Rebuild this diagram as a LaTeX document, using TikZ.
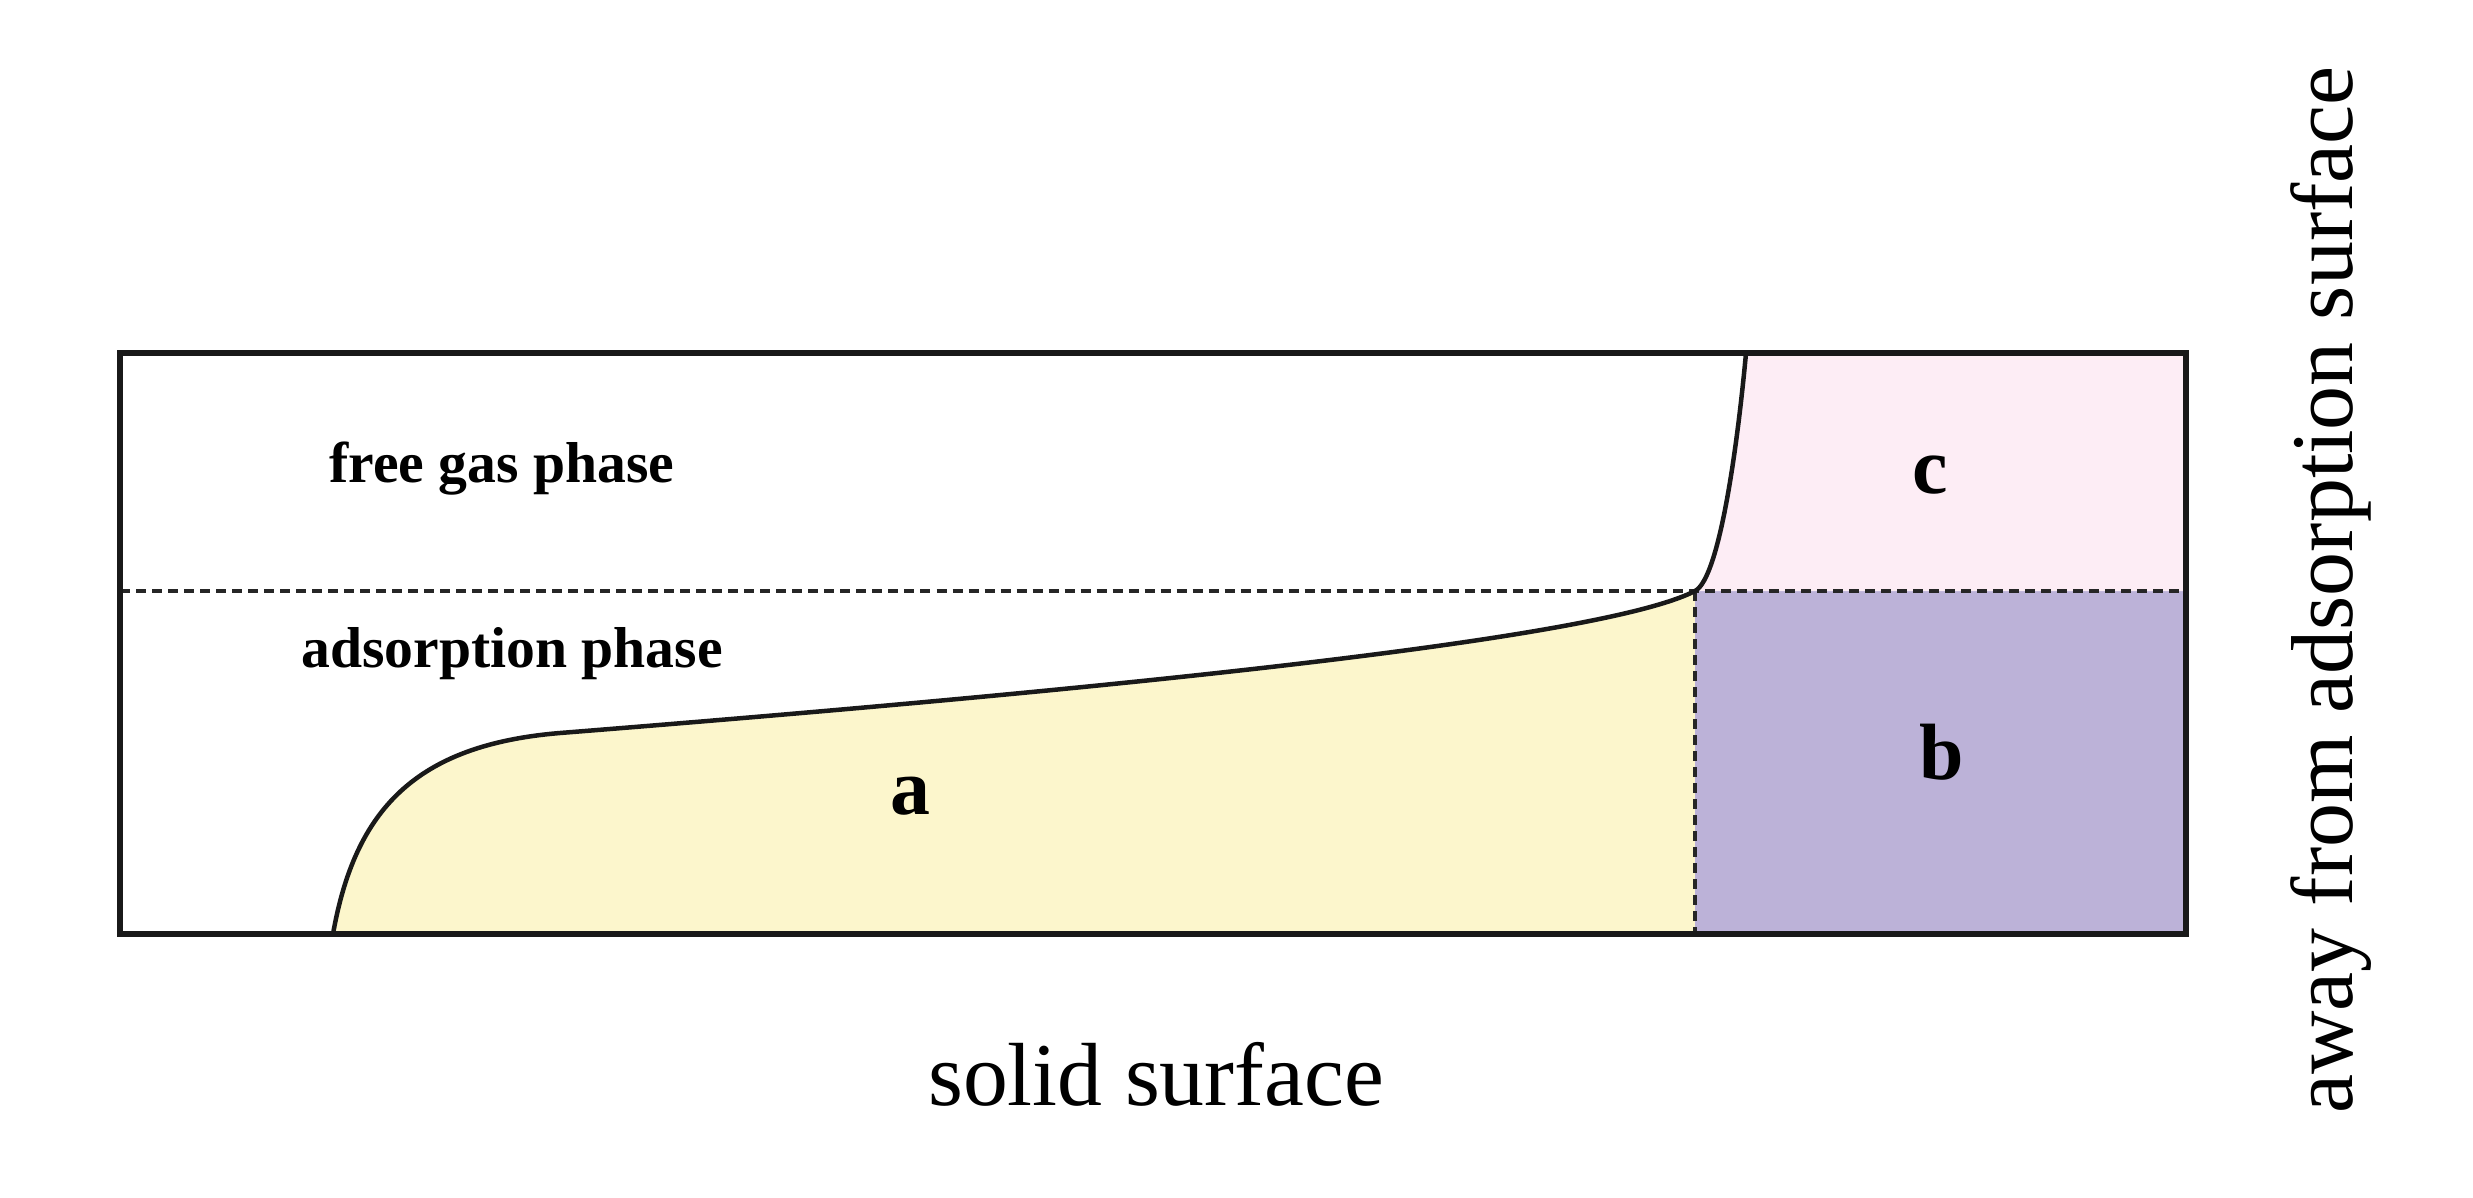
\documentclass[tikz,border=0pt]{standalone}
\usepackage{fontspec}
\setmainfont{Liberation Serif}
\usepackage{tikz}

\definecolor{phasea}{RGB}{252,246,204}
\definecolor{phaseb}{RGB}{188,178,216}
\definecolor{phasec}{RGB}{253,237,245}

\begin{document}
\begin{tikzpicture}[x=0.01cm,y=-0.01cm]
\tikzstyle{frame}=[draw=black!90,line width=0.06cm]
\tikzstyle{divide}=[draw=black!85,line width=0.035cm,dash pattern=on 0.1cm off 0.06cm]
\tikzstyle{isotherm}=[draw=black!90,line width=0.045cm]
\tikzstyle{phase}=[anchor=base,inner sep=0pt,font=\fontsize{16.4}{19}\selectfont\bfseries]
\tikzstyle{region}=[anchor=base,inner sep=0pt,font=\fontsize{22.7}{26}\selectfont\bfseries]
\tikzstyle{axis}=[anchor=base,inner sep=0pt,font=\fontsize{25.5}{30}\selectfont]
\useasboundingbox (0,0) rectangle (2473,1197);
\coordinate (sw) at (120,934);
\coordinate (ne) at (2186,353);
\coordinate (corner) at (1695,591);
\coordinate (foot) at (333,934);
\coordinate (knee) at (560,733);
\coordinate (top) at (1746,353);
% coloured regions
\fill[phasea] (foot) .. controls (355,810) and (415,745) .. (knee)
  .. controls (1100,690) and (1600,640) .. (corner) -- (1695,934) -- cycle;
\fill[phaseb] (corner) rectangle (2186,934);
\fill[phasec] (corner) .. controls (1720,578) and (1738,440) .. (top)
  -- (2186,353) -- (2186,591) -- cycle;
% phase boundaries
\draw[divide] (120,591) -- (2186,591);
\draw[divide] (corner) -- (1695,934);
\draw[isotherm] (foot) .. controls (355,810) and (415,745) .. (knee)
  .. controls (1100,690) and (1600,640) .. (corner)
  .. controls (1720,578) and (1738,440) .. (top);
\draw[frame] (sw) rectangle (ne);
% labels
\node [phase] (free) at (502,482) {free gas phase};
\node [phase] (adsorb) at (512,667) {adsorption phase};
\node [region] (la) at (910,814) {a};
\node [region] (lb) at (1942,779) {b};
\node [region] (lc) at (1930,493) {c};
\node [axis] (solid) at (1156,1105) {solid surface};
\node [axis,rotate=90,font=\fontsize{25}{30}\selectfont] (away) at (2352,590) {away from adsorption surface};
\end{tikzpicture}
\end{document}
